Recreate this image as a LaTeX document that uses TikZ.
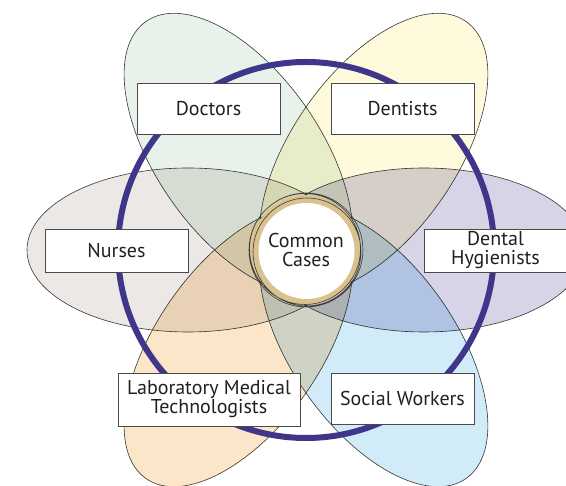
\documentclass[tikz,border=0pt]{standalone}
\usepackage{fontspec}
\setmainfont{PT Sans}
\begin{document}
\begin{tikzpicture}[x=1pt, y=1pt,
	% Styles
	role/.style={draw=boxline, fill=white, line width=0.8pt, text=ink, align=center,
		minimum width=143pt, minimum height=51pt, inner sep=0pt,
		font=\fontsize{20}{19}\selectfont},
	petal/.style={draw=petalline, line width=0.6pt, fill=#1},
	orbit/.style={draw=orbitblue, line width=6pt},
	]
	% Colors
	\definecolor{orbitblue}{HTML}{3F3689}
	\definecolor{ringtan}{HTML}{D9C28E}
	\definecolor{doccol}{HTML}{E8F2EA}
	\definecolor{dentcol}{HTML}{FEFADB}
	\definecolor{nursecol}{HTML}{ECE8E5}
	\definecolor{hygcol}{HTML}{D7D4E8}
	\definecolor{labcol}{HTML}{FBE6CA}
	\definecolor{socialcol}{HTML}{D2EBF9}
	\definecolor{petalline}{HTML}{3A3A3A}
	\definecolor{boxline}{HTML}{4A4A4A}
	\definecolor{ink}{HTML}{231F20}

	\useasboundingbox (0,0) rectangle (566,486);
	\coordinate (O) at (306,236);

	% Petals
	\begin{scope}[blend group=multiply]
	\foreach \ang/\col in {125/doccol, 55/dentcol, 180/nursecol, 0/hygcol, 235/labcol, 305/socialcol}
		\draw[petal=\col, shift={(O)}, rotate=\ang] (118,0) ellipse [x radius=161pt, y radius=82pt];
	\end{scope}

	% Orbit
	\draw[orbit] (O) circle [radius=188pt];

	% Common cases
	\fill[ringtan] (O) circle [radius=55pt];
	\fill[white] (306.5,235) circle [radius=48pt];
	\draw[petalline, line width=0.6pt] (O) circle [radius=57pt]
		(305,237) circle [radius=55.5pt]
		(307,234) circle [radius=54pt];
	\node[text=ink, align=center, font=\fontsize{20}{19}\selectfont] (common) at (O) {Common\\Cases};

	% Roles
	\node[role] (doctors) at (208.5,377.5) {Doctors};
	\node[role] (dentists) at (402.5,377.5) {Dentists};
	\node[role, minimum height=43pt] (nurses) at (116.5,235.5) {Nurses};
	\node[role, minimum height=43pt] (hygienists) at (495.5,235.5) {Dental\\Hygienists};
	\node[role, minimum width=182pt, minimum height=53pt] (labtech) at (209,86.5) {Laboratory Medical\\Technologists};
	\node[role] (social) at (402.5,87.5) {Social Workers};
\end{tikzpicture}
\end{document}
